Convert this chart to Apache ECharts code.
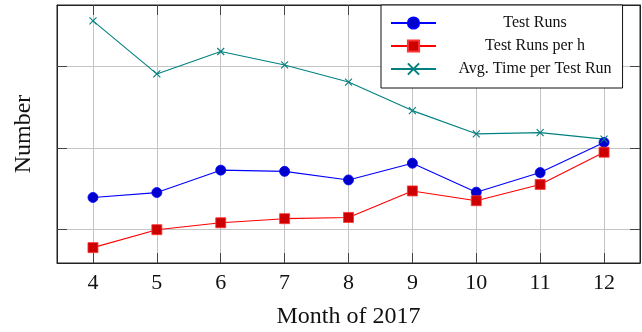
<!DOCTYPE html>
<html>
<head>
<meta charset="utf-8">
<script src="https://cdn.jsdelivr.net/npm/echarts@6/dist/echarts.min.js"></script>
<style>html,body{margin:0;padding:0;background:#fff}#c{width:642px;height:332px}</style>
</head>
<body>
<div id="c"></div>
<script>
var months = [4, 5, 6, 7, 8, 9, 10, 11, 12];
var testRuns = [27.9, 29.1, 34.6, 34.3, 32.2, 36.3, 29.2, 34.0, 41.4];
var testRunsPerHour = [15.6, 20.0, 21.7, 22.7, 23.0, 29.5, 27.1, 31.1, 39.0];
var avgTimePerRun = [71.2, 58.2, 63.7, 60.4, 56.2, 49.2, 43.5, 43.8, 42.2];
var xTicks = [4, 5, 6, 7, 8, 9, 10, 11, 12];
var yTicks = [20, 40, 60];
var seriesNames = ['Test Runs', 'Test Runs per h', 'Avg. Time per Test Run'];

function pairs(vals) { return months.map(function (m, i) { return [m, vals[i]]; }); }

var FONT = '"Liberation Serif", "Times New Roman", serif';
var tickStyle = { show: true, inside: true, length: 10, lineStyle: { color: '#444', width: 1 } };
var gridLine = { show: true, lineStyle: { color: '#c4c4c4', width: 1 } };

var chart = echarts.init(document.getElementById('c'), null, { renderer: 'canvas' });
chart.setOption({
  animation: false,
  backgroundColor: '#fff',
  grid: { left: 57, right: 2, top: 5, bottom: 69, show: true, borderColor: '#222', borderWidth: 1, containLabel: false, outerBoundsMode: 'none' },
  xAxis: [{
    type: 'value', min: 3.437, max: 12.563, position: 'bottom',
    name: 'Month of 2017', nameLocation: 'middle', nameGap: 42,
    nameTextStyle: { fontFamily: FONT, fontSize: 24, color: '#111' },
    axisLine: { show: true, lineStyle: { color: '#222', width: 1 } },
    axisTick: Object.assign({ customValues: xTicks }, tickStyle),
    axisLabel: { customValues: xTicks, fontFamily: FONT, fontSize: 22, color: '#111', margin: 9 },
    splitLine: gridLine
  }, {
    type: 'value', min: 3.437, max: 12.563, position: 'top',
    axisLine: { show: true, lineStyle: { color: '#222', width: 1 } },
    axisTick: Object.assign({ customValues: xTicks }, tickStyle),
    axisLabel: { show: false, customValues: xTicks },
    splitLine: { show: false }
  }],
  yAxis: [{
    type: 'value', min: 11.83, max: 75.1, position: 'left',
    name: 'Number', nameLocation: 'middle', nameGap: 21, nameRotate: 90,
    nameTextStyle: { fontFamily: FONT, fontSize: 24, color: '#111' },
    axisLine: { show: true, lineStyle: { color: '#222', width: 1 } },
    axisTick: Object.assign({ customValues: yTicks }, tickStyle),
    axisLabel: { show: false, customValues: yTicks },
    splitLine: gridLine
  }, {
    type: 'value', min: 11.83, max: 75.1, position: 'right',
    axisLine: { show: true, lineStyle: { color: '#222', width: 1 } },
    axisTick: Object.assign({ customValues: yTicks }, tickStyle),
    axisLabel: { show: false, customValues: yTicks },
    splitLine: { show: false }
  }],
  legend: {
    orient: 'vertical', left: 381, top: 5,
    padding: [10, 11, 11, 9],
    itemWidth: 45, itemHeight: 14, itemGap: 7,
    backgroundColor: '#fff', borderColor: '#111', borderWidth: 1,
    data: seriesNames,
    formatter: function (n) { return '{t|' + n + '}'; },
    textStyle: {
      rich: { t: { width: 188, align: 'center', fontFamily: FONT, fontSize: 16, color: '#111' } }
    }
  },
  series: [{
    name: seriesNames[0], type: 'line', data: pairs(testRuns),
    symbol: 'circle', symbolSize: 10,
    lineStyle: { color: '#0000ff', width: 1.1 },
    itemStyle: { color: '#0000cc', borderColor: '#0000ff', borderWidth: 0.8 }
  }, {
    name: seriesNames[1], type: 'line', data: pairs(testRunsPerHour),
    symbol: 'rect', symbolSize: 10,
    lineStyle: { color: '#ff0000', width: 1.1 },
    itemStyle: { color: '#cc0000', borderColor: '#ff3333', borderWidth: 0.8 }
  }, {
    name: seriesNames[2], type: 'line', data: pairs(avgTimePerRun),
    symbol: 'path://M0,0L10,10M10,0L0,10', symbolSize: 7,
    lineStyle: { color: '#008080', width: 1.1 },
    itemStyle: { color: 'rgba(0,0,0,0)', borderColor: '#008080', borderWidth: 1.1 }
  }]
});
</script>
</body>
</html>
